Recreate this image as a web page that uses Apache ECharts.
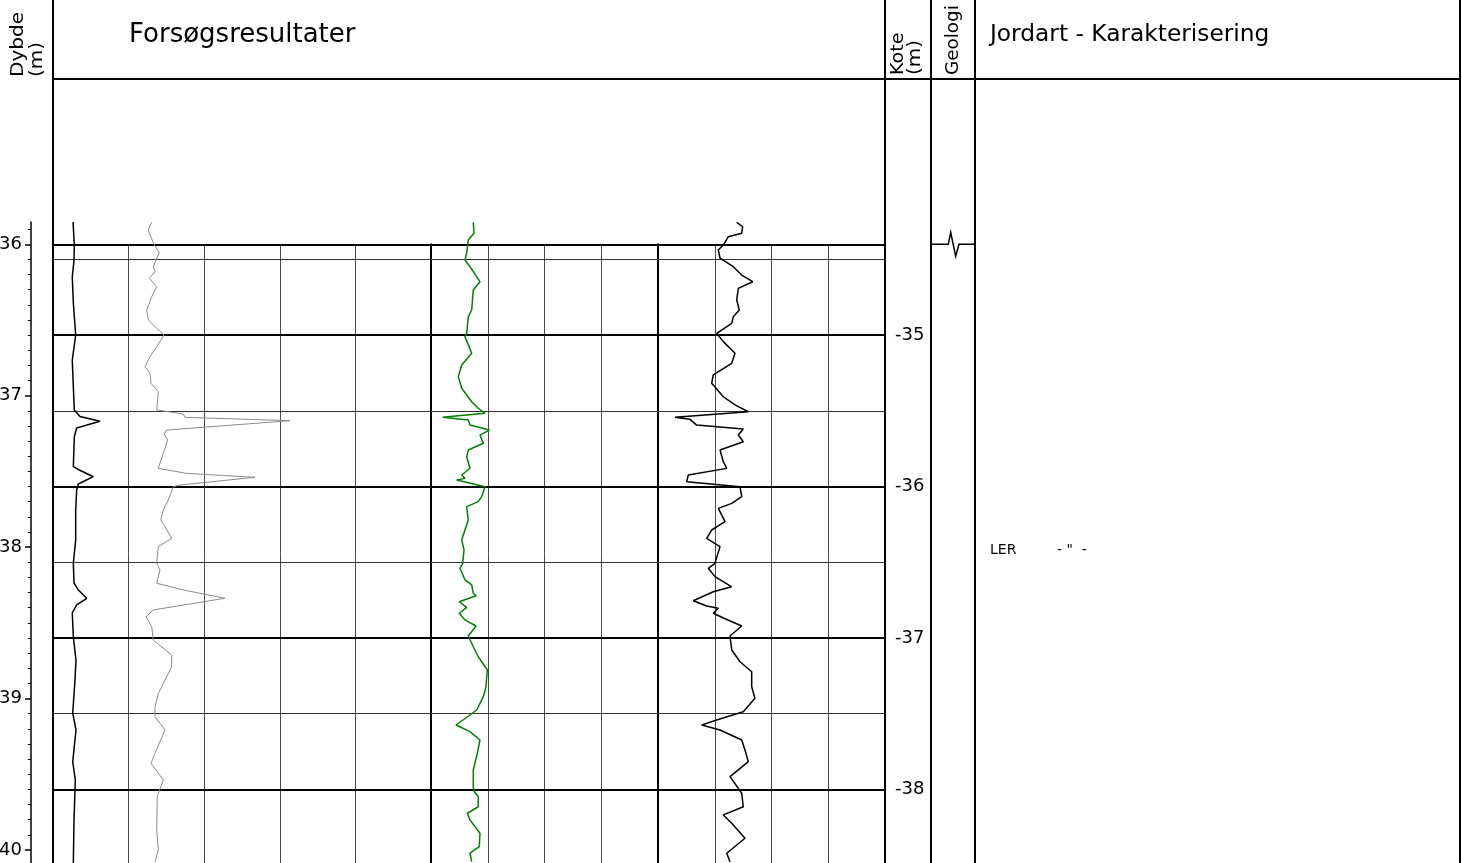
<!DOCTYPE html>
<html><head><meta charset="utf-8">
<script src="https://cdn.jsdelivr.net/npm/echarts@6/dist/echarts.min.js"></script>
<style>html,body{margin:0;padding:0;background:#fff}#c{width:1462px;height:863px}</style>
</head><body><div id="c"></div>
<script>
// ---------------- DATA ----------------
const depthLabels = [36, 37, 38, 39, 40];          // Dybde (m)
const groundLevel = 1.6;                            // kote = groundLevel - dybde
const koteMinor = { min: -38.5, max: -34.5, step: 0.5 };
const koteMajor = { min: -39, max: -35, step: 1 };
const gridTopDepth = 36.0;
const geologyBoundaryDepth = [36.0];
const soilDepth = [38.02];
const soilName = ['LER'];
const soilNote = ['- "  -'];

// trace 1 (black, left panel)
const trace1Depth = [35.853,36.005,36.104,36.216,36.388,36.599,36.765,36.943,37.095,37.138,37.169,37.213,37.271,37.469,37.491,37.535,37.583,37.623,37.755,37.953,38.105,38.237,38.283,38.338,38.382,38.435,38.594,38.746,38.878,39.096,39.208,39.419,39.538,39.803,40.087];
const trace1Value = [0.265,0.282,0.278,0.255,0.269,0.300,0.255,0.269,0.282,0.357,0.622,0.313,0.282,0.269,0.348,0.533,0.335,0.313,0.300,0.300,0.269,0.278,0.335,0.446,0.313,0.255,0.269,0.304,0.291,0.261,0.304,0.261,0.295,0.278,0.269];

// trace 2 (grey, left panel)
const trace2Depth = [35.855,35.906,35.991,36.057,36.104,36.148,36.181,36.225,36.280,36.346,36.434,36.500,36.555,36.599,36.676,36.742,36.808,36.852,36.918,36.974,37.094,37.121,37.143,37.165,37.227,37.253,37.293,37.480,37.513,37.539,37.590,37.601,37.689,37.755,37.821,37.865,37.942,37.997,38.107,38.151,38.239,38.283,38.338,38.415,38.460,38.526,38.614,38.713,38.790,38.878,38.966,39.054,39.120,39.208,39.362,39.428,39.538,39.649,39.869,40.001,40.078];
const trace2Value = [1.305,1.261,1.327,1.406,1.362,1.327,1.349,1.274,1.372,1.306,1.239,1.261,1.372,1.468,1.372,1.283,1.217,1.283,1.296,1.393,1.372,1.724,1.746,3.135,1.504,1.468,1.517,1.393,1.769,2.672,1.680,1.591,1.525,1.459,1.425,1.482,1.570,1.393,1.372,1.415,1.372,1.724,2.275,1.327,1.230,1.306,1.327,1.570,1.570,1.482,1.393,1.349,1.349,1.482,1.349,1.296,1.459,1.379,1.372,1.393,1.349];

// trace 3 (green, middle panel)
const trace3Depth = [35.855,35.927,35.972,36.059,36.104,36.148,36.247,36.302,36.434,36.478,36.588,36.610,36.720,36.797,36.874,36.951,37.040,37.083,37.116,37.143,37.160,37.194,37.227,37.260,37.314,37.359,37.403,37.479,37.524,37.546,37.557,37.601,37.667,37.700,37.733,37.821,37.887,37.953,38.019,38.107,38.140,38.217,38.250,38.305,38.321,38.361,38.398,38.437,38.481,38.521,38.587,38.658,38.724,38.812,38.922,38.988,39.076,39.109,39.175,39.219,39.274,39.362,39.472,39.604,39.649,39.715,39.758,39.802,39.890,39.979,40.022,40.078];
const trace3Value = [0.745,0.758,0.657,0.629,0.599,0.687,0.863,0.745,0.717,0.657,0.629,0.599,0.717,0.541,0.481,0.541,0.717,0.833,0.952,0.206,0.657,0.687,1.027,0.863,0.922,0.657,0.629,0.687,0.541,0.599,0.453,0.952,0.893,0.833,0.629,0.657,0.599,0.541,0.582,0.559,0.511,0.599,0.717,0.745,0.793,0.499,0.629,0.499,0.599,0.793,0.657,0.745,0.833,0.992,0.969,0.922,0.805,0.687,0.441,0.687,0.863,0.816,0.745,0.745,0.833,0.833,0.640,0.687,0.863,0.851,0.687,0.717];

// trace 4 (black, right panel)
const trace4Depth = [35.855,35.884,35.927,35.950,36.005,36.038,36.092,36.148,36.203,36.247,36.291,36.368,36.434,36.478,36.522,36.588,36.643,36.720,36.786,36.863,36.918,37.007,37.061,37.106,37.143,37.156,37.194,37.220,37.260,37.304,37.359,37.436,37.480,37.524,37.568,37.601,37.667,37.711,37.744,37.832,37.887,37.942,37.997,38.107,38.140,38.195,38.262,38.295,38.354,38.389,38.404,38.437,38.470,38.521,38.587,38.680,38.757,38.823,38.922,38.999,39.087,39.142,39.175,39.208,39.274,39.340,39.417,39.516,39.626,39.715,39.769,39.824,39.923,40.022,40.078];
const trace4Value = [1.387,1.492,1.475,1.239,1.151,1.063,1.093,1.327,1.475,1.669,1.415,1.387,1.433,1.327,1.299,1.034,1.151,1.357,1.299,0.974,0.946,1.151,1.357,1.591,0.300,0.564,0.682,1.503,1.415,1.503,1.093,1.151,1.211,0.534,0.506,1.445,1.475,1.299,1.063,1.181,0.946,0.858,1.093,1.004,0.886,1.004,1.299,0.974,0.622,0.858,1.063,0.974,1.163,1.475,1.269,1.299,1.445,1.651,1.651,1.709,1.503,1.034,0.770,1.093,1.475,1.533,1.591,1.269,1.475,1.503,1.151,1.299,1.533,1.211,1.269];

// ---------------- LAYOUT ----------------
const W = 1462, H = 863;
const Y36 = 244.3, PPM = 151.4, TOP = 222;
const yOf = d => Y36 + (d - 36) * PPM;
const depthMin = 36 - (Y36 - TOP) / PPM;
const depthMax = 36 + (H - Y36) / PPM;
const FONT = 'DejaVu Sans';
const panels = [
  { left: 53, right: 431, div: 5 },
  { left: 431, right: 658, div: 4 },
  { left: 658, right: 885, div: 4 }
];
const pair = (ds, vs) => ds.map((d, i) => [vs[i], d]);

const grid = [], xAxis = [], yAxis = [];
const noGrid = { outerBoundsMode: 'none', containLabel: false };
// curve grids 0..2
panels.forEach((p, i) => {
  grid.push(Object.assign({ left: p.left, width: p.right - p.left, top: TOP, bottom: 0 }, noGrid));
  xAxis.push({ gridIndex: i, type: 'value', min: 0, max: p.div, show: false });
  yAxis.push(i === 0 ? {
    gridIndex: 0, type: 'value', inverse: true, min: depthMin, max: depthMax,
    position: 'left', offset: 22, splitNumber: 4,
    axisLine: { show: true, onZero: false, lineStyle: { color: '#000', width: 1.5 } },
    axisTick: { show: true, length: 6, customValues: depthLabels, lineStyle: { color: '#000', width: 1.5 } },
    minorTick: { show: true, splitNumber: 10, length: 3, lineStyle: { color: '#000', width: 1 } },
    axisLabel: { show: true, customValues: depthLabels, fontSize: 18, color: '#000', margin: 9, fontFamily: FONT,
      formatter: v => (Math.abs(v - Math.round(v)) < 1e-6 ? String(Math.round(v)) : '') },
    splitLine: { show: false }
  } : { gridIndex: i, type: 'value', inverse: true, min: depthMin, max: depthMax, show: false });
});
// gridline grids 3..5
panels.forEach((p, i) => {
  const gi = 3 + i;
  grid.push(Object.assign({ left: p.left, width: p.right - p.left, top: yOf(gridTopDepth), bottom: 0 }, noGrid));
  xAxis.push({
    gridIndex: gi, type: 'value', min: 0, max: p.div, interval: 1, position: 'top',
    axisLine: { show: true, onZero: false, lineStyle: { color: '#000', width: 2 } },
    axisTick: { show: false }, axisLabel: { show: false },
    splitLine: { show: true, showMinLine: false, showMaxLine: false, lineStyle: { color: '#4a4a4a', width: 1 } }
  });
  yAxis.push({
    gridIndex: gi, type: 'value', inverse: true, min: gridTopDepth, max: depthMax, position: 'left',
    axisLine: { show: true, onZero: false, lineStyle: { color: '#000', width: 2 } },
    axisTick: { show: false }, axisLabel: { show: false }, splitLine: { show: false }
  });
});
// kote grids 6 (half metre, thin) and 7 (metre, thick)
[koteMinor, koteMajor].forEach((k, j) => {
  const gi = 6 + j;
  grid.push(Object.assign({ left: 53, right: W - 885,
    top: yOf(groundLevel - k.max), bottom: H - yOf(groundLevel - k.min) }, noGrid));
  xAxis.push({ gridIndex: gi, type: 'value', min: 0, max: 1, show: false });
  yAxis.push({
    gridIndex: gi, type: 'value', min: k.min, max: k.max, interval: k.step, position: 'right', z: 3 + j,
    axisLine: { show: false },
    axisTick: { show: true, length: j ? 5 : 3, lineStyle: { color: j ? '#000' : '#333', width: j ? 2 : 1 } },
    axisLabel: { show: j === 1, fontSize: 18, color: '#000', margin: 10, fontFamily: FONT },
    splitLine: { show: true, lineStyle: { color: j ? '#000' : '#333', width: j ? 2 : 1 } }
  });
});
// geology column 8, soil column 9
[[931, 975], [975, 1460]].forEach((c, j) => {
  const gi = 8 + j;
  grid.push(Object.assign({ left: c[0], width: c[1] - c[0], top: TOP, bottom: 0 }, noGrid));
  xAxis.push({ gridIndex: gi, type: 'value', min: 0, max: 1, show: false });
  yAxis.push({ gridIndex: gi, type: 'value', inverse: true, min: depthMin, max: depthMax, show: false });
});

const lineSeries = (name, data, xi, color, width) => ({
  name, type: 'line', xAxisIndex: xi, yAxisIndex: xi, data, showSymbol: false, symbol: 'none',
  clip: false, silent: true, animation: false, z: 5,
  lineStyle: { color, width }
});

const series = [
  lineSeries('trace1', pair(trace1Depth, trace1Value), 0, '#000', 1.5),
  lineSeries('trace2', pair(trace2Depth, trace2Value), 0, '#8a8a8a', 1),
  lineSeries('trace3', pair(trace3Depth, trace3Value), 1, '#008000', 1.5),
  lineSeries('trace4', pair(trace4Depth, trace4Value), 2, '#000', 1.5),
  {
    type: 'custom', xAxisIndex: 8, yAxisIndex: 8, silent: true, animation: false, clip: false,
    data: geologyBoundaryDepth.map(d => [0, d]),
    renderItem: (params, api) => {
      const d = api.value(1);
      const l = api.coord([0, d]), r = api.coord([1, d]);
      const x0 = l[0], y = l[1], w = r[0] - l[0];
      return {
        type: 'polyline',
        shape: { points: [[x0, y], [x0 + w * 0.393, y], [x0 + w * 0.448, y - 12], [x0 + w * 0.561, y + 12], [x0 + w * 0.636, y], [r[0] - 1, y]] },
        style: { stroke: '#000', lineWidth: 1.5, fill: null }
      };
    }
  },
  {
    type: 'custom', xAxisIndex: 9, yAxisIndex: 9, silent: true, animation: false, clip: false,
    data: soilDepth.map((d, i) => [0, d, i]),
    renderItem: (params, api) => {
      const i = api.value(2);
      const p = api.coord([0, api.value(1)]);
      return {
        type: 'group', children: [
          { type: 'text', x: p[0] + 15, y: p[1], style: { text: soilName[i], fontSize: 14, fontFamily: FONT, fill: '#000', align: 'left', verticalAlign: 'middle' } },
          { type: 'text', x: p[0] + 82, y: p[1], style: { text: soilNote[i], fontSize: 14, fontFamily: FONT, fill: '#000', align: 'left', verticalAlign: 'middle' } }
        ]
      };
    }
  }
];

const vline = x => ({ type: 'line', silent: true, z: 10, shape: { x1: x, y1: 0, x2: x, y2: H }, style: { stroke: '#000', lineWidth: 2 } });
const rtext = (text, x, y, sx) => ({
  type: 'text', silent: true, z: 10, x, y, rotation: Math.PI / 2, scaleX: sx, scaleY: 1,
  style: { text, fontSize: 17, fontFamily: FONT, fill: '#000', align: 'left', verticalAlign: 'middle' }
});
const graphic = [
  vline(53), vline(885), vline(931), vline(975), vline(1460),
  { type: 'line', silent: true, z: 10, shape: { x1: 53, y1: 79, x2: 1461, y2: 79 }, style: { stroke: '#000', lineWidth: 2 } },
  { type: 'text', silent: true, z: 10, x: 129, y: 35, style: { text: 'Forsøgsresultater', fontSize: 26, fontFamily: FONT, fill: '#000', align: 'left', verticalAlign: 'middle' } },
  { type: 'text', silent: true, z: 10, x: 990, y: 35, style: { text: 'Jordart - Karakterisering', fontSize: 23.3, fontFamily: FONT, fill: '#000', align: 'left', verticalAlign: 'middle' } },
  rtext('Dybde', 19, 77, 1.18),
  rtext('(m)', 38, 77, 1.17),
  rtext('Kote', 898.5, 75, 1.12),
  rtext('(m)', 916, 75, 1.17),
  rtext('Geologi', 954, 75, 1.08)
];

const chart = echarts.init(document.getElementById('c'), null, { renderer: 'canvas', width: W, height: H });
chart.setOption({
  animation: false,
  backgroundColor: '#fff',
  textStyle: { fontFamily: FONT },
  grid, xAxis, yAxis, series, graphic
});
</script></body></html>
